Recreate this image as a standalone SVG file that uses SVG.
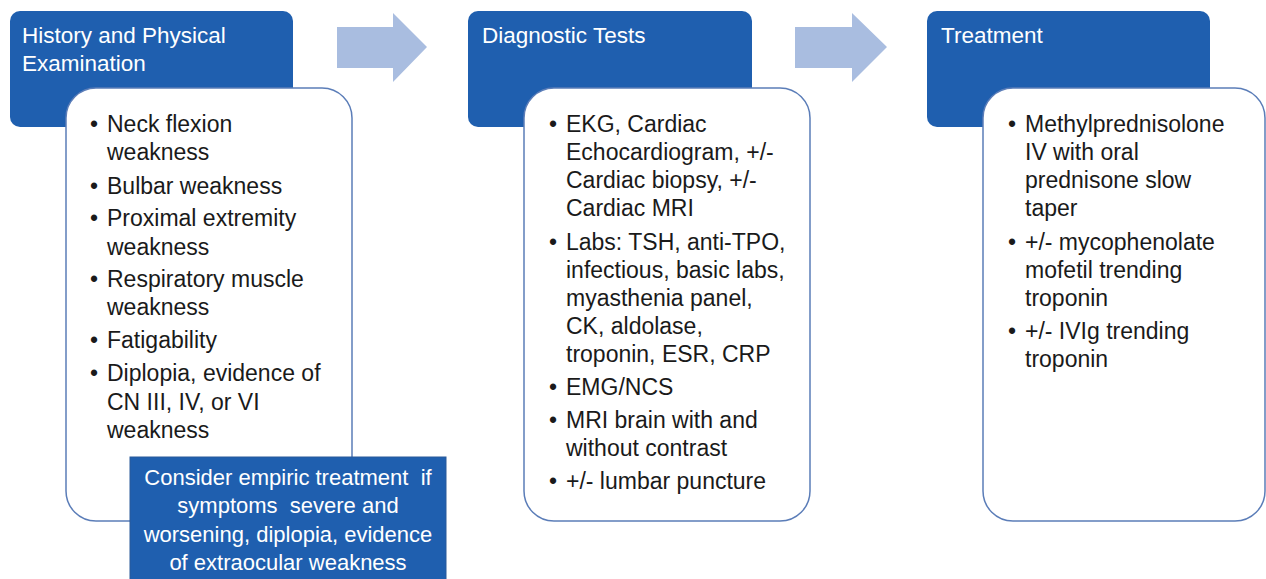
<svg xmlns="http://www.w3.org/2000/svg" width="1266" height="579" viewBox="0 0 1266 579">
<style>
.hdr{fill:#1f5faf;}
.card{fill:#ffffff;stroke:#5b7db8;stroke-width:1.5;}
.arrow{fill:#a9bde0;}
.ht{font-family:"Liberation Sans",Arial,sans-serif;font-size:22.5px;fill:#ffffff;}
.bt{font-family:"Liberation Sans",Arial,sans-serif;font-size:23px;fill:#1a1a1a;}
.nt{font-family:"Liberation Sans",Arial,sans-serif;font-size:22px;fill:#ffffff;text-anchor:middle;white-space:pre;}
</style>
<rect width="1266" height="579" fill="#ffffff"/>
<g id="connectors">
<polygon class="arrow" points="337,27 393,27 393,13 427,47 393,82 393,68 337,68"/>
<polygon class="arrow" points="795,27 852,27 852,13 887,47 852,82 852,68 795,68"/>
</g>
<g id="node-history">
<rect class="hdr" x="10" y="11" width="283" height="116" rx="10"/>
<text class="ht" x="22" y="43">History and Physical</text>
<text class="ht" x="22" y="71">Examination</text>
<rect class="card" x="66" y="88" width="286" height="433" rx="30"/>
<g class="bt">
<text x="90" y="132">•</text><text x="107" y="132">Neck flexion</text>
<text x="107" y="160">weakness</text>
<text x="90" y="194">•</text><text x="107" y="194">Bulbar weakness</text>
<text x="90" y="226">•</text><text x="107" y="226">Proximal extremity</text>
<text x="107" y="255">weakness</text>
<text x="90" y="287">•</text><text x="107" y="287">Respiratory muscle</text>
<text x="107" y="315">weakness</text>
<text x="90" y="348">•</text><text x="107" y="348">Fatigability</text>
<text x="90" y="381">•</text><text x="107" y="381">Diplopia, evidence of</text>
<text x="107" y="410">CN III, IV, or VI</text>
<text x="107" y="438">weakness</text>
</g>
</g>
<g id="node-empiric">
<rect x="130" y="457" width="316" height="130" fill="#1f5faf" stroke="#2b5b9a" stroke-width="1"/>
<text class="nt" x="288" y="485">Consider empiric treatment  if</text>
<text class="nt" x="288" y="513">symptoms  severe and</text>
<text class="nt" x="288" y="542">worsening, diplopia, evidence</text>
<text class="nt" x="288" y="570">of extraocular weakness</text>
</g>
<g id="node-diagnostic">
<rect class="hdr" x="468" y="11" width="284" height="116" rx="10"/>
<text class="ht" x="482" y="43">Diagnostic Tests</text>
<rect class="card" x="524" y="88" width="286" height="433" rx="30"/>
<g class="bt">
<text x="549" y="132">•</text><text x="566" y="132">EKG, Cardiac</text>
<text x="566" y="160">Echocardiogram, +/-</text>
<text x="566" y="188">Cardiac biopsy, +/-</text>
<text x="566" y="216">Cardiac MRI</text>
<text x="549" y="250">•</text><text x="566" y="250">Labs: TSH, anti-TPO,</text>
<text x="566" y="278">infectious, basic labs,</text>
<text x="566" y="306">myasthenia panel,</text>
<text x="566" y="334">CK, aldolase,</text>
<text x="566" y="362">troponin, ESR, CRP</text>
<text x="549" y="395">•</text><text x="566" y="395">EMG/NCS</text>
<text x="549" y="428">•</text><text x="566" y="428">MRI brain with and</text>
<text x="566" y="456">without contrast</text>
<text x="549" y="489">•</text><text x="566" y="489">+/- lumbar puncture</text>
</g>
</g>
<g id="node-treatment">
<rect class="hdr" x="927" y="11" width="283" height="116" rx="10"/>
<text class="ht" x="941" y="43">Treatment</text>
<rect class="card" x="983" y="88" width="282" height="433" rx="30"/>
<g class="bt">
<text x="1008" y="132">•</text><text x="1025" y="132">Methylprednisolone</text>
<text x="1025" y="160">IV with oral</text>
<text x="1025" y="188">prednisone slow</text>
<text x="1025" y="216">taper</text>
<text x="1008" y="250">•</text><text x="1025" y="250">+/- mycophenolate</text>
<text x="1025" y="278">mofetil trending</text>
<text x="1025" y="306">troponin</text>
<text x="1008" y="339">•</text><text x="1025" y="339">+/- IVIg trending</text>
<text x="1025" y="367">troponin</text>
</g>
</g>
</svg>
